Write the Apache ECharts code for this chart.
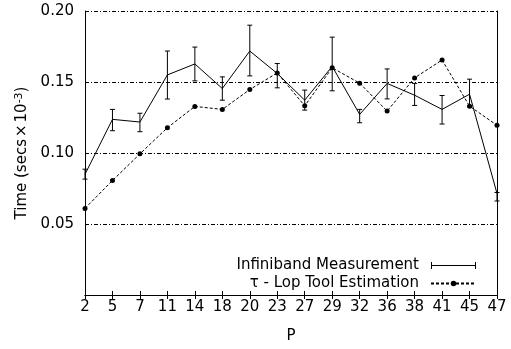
<!DOCTYPE html>
<html>
<head>
<meta charset="utf-8">
<script src="https://cdn.jsdelivr.net/npm/echarts@6/dist/echarts.min.js"></script>
<style>
  html, body { margin: 0; padding: 0; background: #fff; }
  #chart { width: 511px; height: 349px; }
</style>
</head>
<body>
<div id="chart"></div>
<script>
var categories = ['2', '5', '7', '11', '14', '18', '20', '23', '27', '29', '32', '36', '38', '41', '45', '47'];
var infiniband = [0.085, 0.1237, 0.1218, 0.155, 0.1627, 0.1454, 0.1718, 0.156, 0.1372, 0.161, 0.1272, 0.149, 0.1407, 0.1307, 0.1414, 0.0715];
var ibLow = [0.0816, 0.1157, 0.115, 0.138, 0.1508, 0.1372, 0.1543, 0.1459, 0.1302, 0.1438, 0.1213, 0.1381, 0.1335, 0.1204, 0.133, 0.0662];
var ibHigh = [0.0886, 0.1307, 0.128, 0.1718, 0.1746, 0.1536, 0.19, 0.163, 0.1443, 0.1816, 0.1307, 0.1592, 0.149, 0.1405, 0.152, 0.0722];
var tauLop = [0.061, 0.0806, 0.0994, 0.1178, 0.1328, 0.1307, 0.1447, 0.1564, 0.1332, 0.16, 0.1492, 0.1295, 0.1529, 0.1655, 0.133, 0.1195];
var yTicks = { min: 0, max: 0.2, interval: 0.05 };

var font = 'DejaVu Sans, sans-serif';
var fs = 15;
var errData = categories.map(function(c, i) { return [i, ibLow[i], ibHigh[i]]; });
var axisLineStyle = { show: true, lineStyle: { color: '#000', width: 1 } };
var tickStyle = { inside: true, length: 4, lineStyle: { color: '#000' } };

var chart = echarts.init(document.getElementById('chart'), null, { renderer: 'canvas' });
chart.setOption({
  animation: false,
  backgroundColor: '#fff',
  grid: { left: 85, right: 14, top: 11, bottom: 53 },
  legend: {
    orient: 'vertical',
    right: 34,
    top: 258,
    padding: 0,
    align: 'right',
    itemWidth: 45,
    itemHeight: 7,
    itemGap: 3,
    textStyle: { fontSize: fs, color: '#000', fontFamily: font, padding: [0, 7, 0, 0] },
    data: [
      { name: 'Infiniband Measurement', icon: 'path://M0,0h1v7h-1z M0,3h45v1h-45z M44,0h1v7h-1z' },
      { name: 'τ - Lop Tool Estimation' }
    ]
  },
  xAxis: [{
    type: 'category',
    data: categories,
    boundaryGap: false,
    name: 'P',
    nameLocation: 'middle',
    nameGap: 34,
    nameTextStyle: { fontSize: fs, color: '#000', fontFamily: font },
    axisLine: axisLineStyle,
    axisTick: tickStyle,
    axisLabel: { fontSize: fs, color: '#000', fontFamily: font, margin: 5, interval: 0 },
    splitLine: { show: false }
  }, {
    type: 'category',
    data: categories,
    boundaryGap: false,
    position: 'top',
    axisLine: axisLineStyle,
    axisTick: tickStyle,
    axisLabel: { show: false },
    splitLine: { show: false }
  }],
  yAxis: [{
    type: 'value',
    min: yTicks.min,
    max: yTicks.max,
    interval: yTicks.interval,
    name: 'Time (secs{x|×}10{sup|-3})',
    nameLocation: 'middle',
    nameGap: 48,
    nameTextStyle: {
      fontSize: fs, color: '#000', fontFamily: font,
      rich: {
        x: { fontSize: fs, color: '#000', fontFamily: font, padding: [0, 2, 0, 2] },
        sup: { fontSize: 11, color: '#000', fontFamily: font, verticalAlign: 'top', padding: [0, 0, 6, 0] }
      }
    },
    axisLine: axisLineStyle,
    axisTick: tickStyle,
    axisLabel: {
      fontSize: fs, color: '#000', fontFamily: font, margin: 11, showMinLabel: false,
      formatter: function(v) { return v.toFixed(2); }
    },
    splitLine: { show: true, lineStyle: { color: '#000', width: 1, type: [4, 2, 1, 2] } }
  }, {
    type: 'value',
    min: yTicks.min,
    max: yTicks.max,
    interval: yTicks.interval,
    position: 'right',
    axisLine: axisLineStyle,
    axisTick: tickStyle,
    axisLabel: { show: false },
    splitLine: { show: false }
  }],
  series: [
    {
      name: 'Infiniband Measurement',
      type: 'line',
      data: infiniband,
      symbol: 'none',
      lineStyle: { color: '#000', width: 1 },
      itemStyle: { color: '#000' },
      z: 3
    },
    {
      name: 'Infiniband Measurement',
      type: 'custom',
      data: errData,
      encode: { x: 0, y: [1, 2] },
      renderItem: function(params, api) {
        var i = api.value(0);
        var lo = api.coord([i, api.value(1)]);
        var hi = api.coord([i, api.value(2)]);
        var w = 2.5;
        var st = { stroke: '#000', lineWidth: 1 };
        return {
          type: 'group',
          children: [
            { type: 'line', shape: { x1: lo[0], y1: lo[1], x2: hi[0], y2: hi[1] }, style: st },
            { type: 'line', shape: { x1: lo[0] - w, y1: lo[1], x2: lo[0] + w, y2: lo[1] }, style: st },
            { type: 'line', shape: { x1: hi[0] - w, y1: hi[1], x2: hi[0] + w, y2: hi[1] }, style: st }
          ]
        };
      },
      z: 3
    },
    {
      name: 'τ - Lop Tool Estimation',
      type: 'line',
      data: tauLop,
      symbol: 'circle',
      symbolSize: 5,
      showAllSymbol: true,
      lineStyle: { color: '#000', width: 1, type: [3, 2] },
      itemStyle: { color: '#000', borderWidth: 0 },
      z: 2
    }
  ]
});
</script>
</body>
</html>
